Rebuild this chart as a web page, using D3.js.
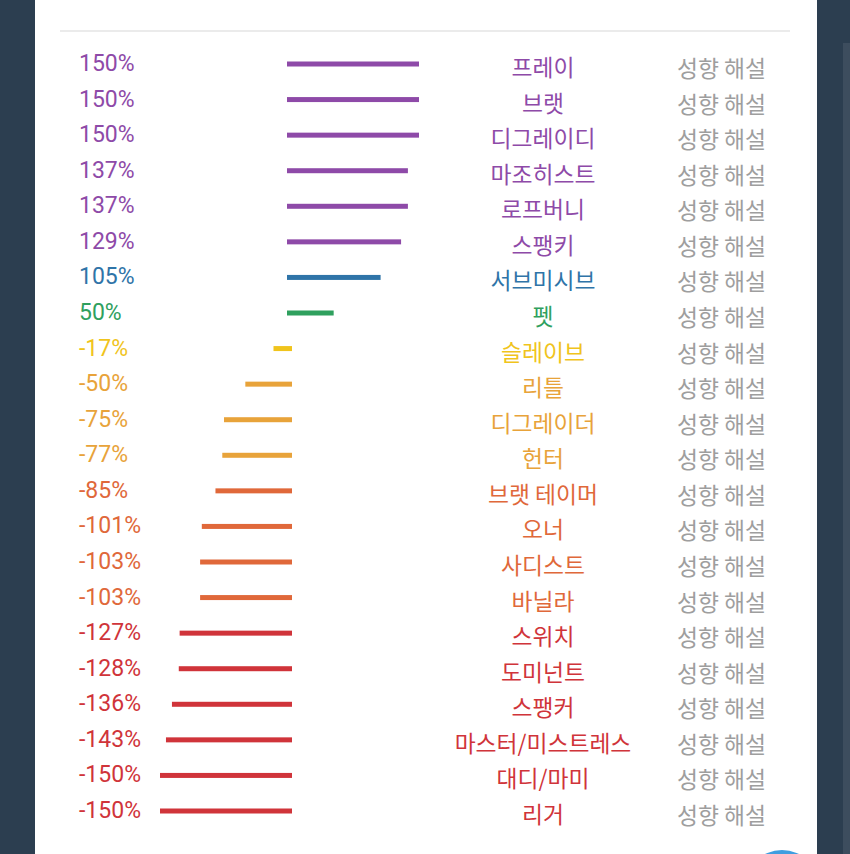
<!DOCTYPE html>
<html>
<head>
<meta charset="utf-8">
<script src="https://cdn.jsdelivr.net/npm/d3@7/dist/d3.min.js"></script>
<style>
  html, body { margin: 0; padding: 0; background: #2c3e50; }
  svg { display: block; }
</style>
</head>
<body>
<svg id="chart" width="850" height="854"></svg>
<script>
const names = ["프레이","브랫","디그레이디","마조히스트","로프버니","스팽키","서브미시브","펫",
  "슬레이브","리틀","디그레이더","헌터","브랫 테이머","오너","사디스트","바닐라",
  "스위치","도미넌트","스팽커","마스터/미스트레스","대디/마미","리거"];
const values = [150,150,150,137,137,129,105,50,-17,-50,-75,-77,-85,-101,-103,-103,-127,-128,-136,-143,-150,-150];
const groups = ["purple","purple","purple","purple","purple","purple","blue","green",
  "yellow","amber","amber","amber","orange","orange","orange","orange",
  "red","red","red","red","red","red"];
const groupKeys = ["purple","blue","green","yellow","amber","orange","red"];
const groupColors = ["#8e4aa8","#2f74a8","#2fa05e","#f0c41c","#e8a33a","#e0683a","#d0343a"];
const linkLabel = "성향 해설";

const svg = d3.select("#chart");
const W = 850, H = 854;

// panel
svg.append("rect").attr("x", 0).attr("y", 0).attr("width", W).attr("height", H).attr("fill", "#2c3e50");
svg.append("rect").attr("x", 35).attr("y", 0).attr("width", 782).attr("height", H).attr("fill", "#ffffff");
svg.append("rect").attr("x", 843).attr("y", 43).attr("width", 7).attr("height", H - 43).attr("fill", "#3d4d5e");
svg.append("line").attr("x1", 60).attr("x2", 790).attr("y1", 31).attr("y2", 31)
  .attr("stroke", "#e4e4e4").attr("stroke-width", 1.5);

const color = d3.scaleOrdinal().domain(groupKeys).range(groupColors);
const y = d3.scalePoint().domain(names.map((d, i) => i)).range([64, 811]);
const len = d3.scaleLinear().domain([0, 150]).range([4, 132]);
const zeroPos = 287, zeroNeg = 292;

const rows = svg.append("g").selectAll("g").data(values).join("g")
  .attr("transform", (d, i) => `translate(0,${y(i)})`);

rows.append("rect")
  .attr("x", d => d >= 0 ? zeroPos : zeroNeg - len(-d))
  .attr("y", -2.5)
  .attr("width", d => len(Math.abs(d)))
  .attr("height", 5)
  .attr("fill", (d, i) => color(groups[i]));

rows.append("text")
  .attr("x", 79).attr("y", 7)
  .attr("font-family", "Roboto, sans-serif").attr("font-size", 23)
  .attr("fill", (d, i) => color(groups[i]))
  .text(d => d + "%");

rows.append("text")
  .attr("x", 543).attr("y", 12)
  .attr("text-anchor", "middle")
  .attr("font-family", "'Noto Sans CJK KR', sans-serif").attr("font-size", 22.8)
  .attr("fill", (d, i) => color(groups[i]))
  .text((d, i) => names[i]);

rows.append("text")
  .attr("x", 677).attr("y", 13)
  .attr("font-family", "'Noto Sans CJK KR', sans-serif").attr("font-size", 22.8)
  .attr("fill", "#9e9e9e")
  .text(linkLabel);

// floating button edge at bottom right
svg.append("circle").attr("cx", 782).attr("cy", 888).attr("r", 38).attr("fill", "#3f9ee0");
</script>
</body>
</html>
